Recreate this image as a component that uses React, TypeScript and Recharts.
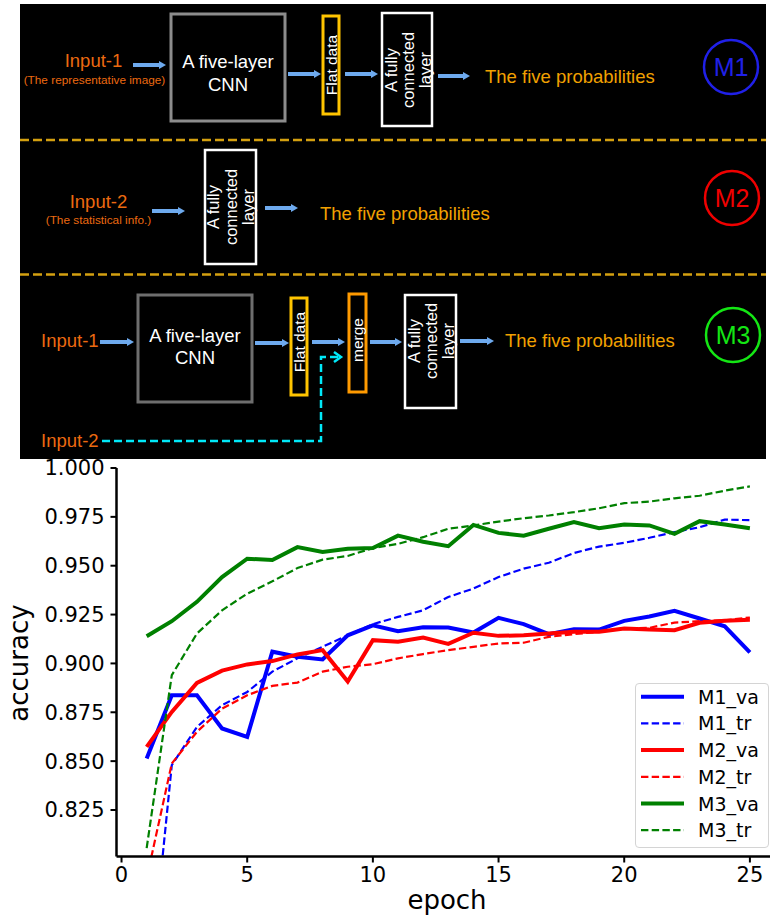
import React from 'react';
import { LineChart, Line, XAxis, YAxis, Legend } from 'recharts';

const epochs = [1, 2, 3, 4, 5, 6, 7, 8, 9, 10, 11, 12, 13, 14, 15, 16, 17, 18, 19, 20, 21, 22, 23, 24, 25];
const m1Va = [0.8514, 0.8837, 0.8837, 0.8667, 0.8624, 0.906, 0.9034, 0.902, 0.9144, 0.9195, 0.9165, 0.9185, 0.9184, 0.9158, 0.9233, 0.9201, 0.915, 0.9175, 0.9173, 0.9218, 0.924, 0.9269, 0.923, 0.919, 0.9056];
const m1Tr = [0.72, 0.848, 0.8675, 0.8786, 0.8854, 0.8958, 0.9026, 0.9085, 0.9144, 0.9201, 0.9238, 0.9272, 0.934, 0.9383, 0.9442, 0.9485, 0.9515, 0.9565, 0.9598, 0.9617, 0.9643, 0.9672, 0.9697, 0.9736, 0.9733];
const m2Va = [0.8573, 0.8752, 0.89, 0.8963, 0.8995, 0.9012, 0.9046, 0.9068, 0.8907, 0.9119, 0.9111, 0.9132, 0.91, 0.9157, 0.9141, 0.9144, 0.9153, 0.9162, 0.9162, 0.9179, 0.9173, 0.917, 0.9208, 0.9218, 0.9223];
const m2Tr = [0.79, 0.8488, 0.865, 0.8769, 0.8837, 0.8885, 0.8902, 0.8958, 0.8983, 0.8996, 0.9026, 0.9048, 0.9068, 0.9085, 0.9102, 0.9106, 0.9136, 0.915, 0.9162, 0.9179, 0.9182, 0.9209, 0.9216, 0.9221, 0.9235];
const m3Va = [0.9139, 0.9216, 0.9315, 0.9442, 0.9536, 0.9529, 0.9595, 0.957, 0.9587, 0.959, 0.9654, 0.9623, 0.96, 0.9709, 0.9668, 0.9654, 0.9689, 0.9723, 0.9692, 0.9711, 0.9706, 0.9663, 0.9728, 0.9711, 0.9692];
const m3Tr = [0.8055, 0.894, 0.9153, 0.9272, 0.9357, 0.942, 0.9488, 0.9531, 0.955, 0.959, 0.9612, 0.9646, 0.9689, 0.9706, 0.9726, 0.9743, 0.9757, 0.9774, 0.9794, 0.982, 0.9828, 0.9845, 0.9858, 0.9884, 0.9906];

const xTicks = [0, 5, 10, 15, 20, 25];
const yTicks = [0.825, 0.85, 0.875, 0.9, 0.925, 0.95, 0.975, 1.0];

const seriesNames = ['M1_va', 'M1_tr', 'M2_va', 'M2_tr', 'M3_va', 'M3_tr'];
const seriesValues = [m1Va, m1Tr, m2Va, m2Tr, m3Va, m3Tr];
const seriesColors = ['#0000ff', '#0000ff', '#ff0000', '#ff0000', '#008000', '#008000'];
const seriesDashed = [false, true, false, true, false, true];

const data = epochs.map((e, i) => {
  const row: any = { epoch: e };
  seriesNames.forEach((n, k) => {
    row[n] = seriesValues[k][i];
  });
  return row;
});

const FONT = '"DejaVu Sans", sans-serif';
const DFONT = '"Liberation Sans", Arial, sans-serif';
const ORANGE = '#ec6a10';
const AMBER = '#f2a100';
const ARROW = '#6eaaee';

// chart placement: svg top at page y = CHART_TOP
const CHART_TOP = 446;
const MT = 468 - CHART_TOP;

function Arrow({ x1, x2, y }: { x1: number; x2: number; y: number }) {
  return (
    <g>
      <line x1={x1} y1={y} x2={x2 - 5} y2={y} stroke={ARROW} strokeWidth={4} />
      <polygon points={`${x2 - 7},${y - 4} ${x2},${y} ${x2 - 7},${y + 4}`} fill={ARROW} />
    </g>
  );
}

function VText({ cx, cy, lines, size, lh }: { cx: number; cy: number; lines: string[]; size: number; lh: number }) {
  const n = lines.length;
  return (
    <text
      transform={`rotate(-90 ${cx} ${cy})`}
      x={cx}
      y={cy}
      textAnchor="middle"
      fill="#fff"
      fontSize={size}
      fontFamily={DFONT}
    >
      {lines.map((l, i) => (
        <tspan key={i} x={cx} y={cy + (i - (n - 1) / 2) * lh + size * 0.36}>
          {l}
        </tspan>
      ))}
    </text>
  );
}

function Diagram() {
  return (
    <svg width={770} height={459} style={{ position: 'absolute', left: 0, top: 0 }}>
      <rect x={20} y={4} width={746} height={455} fill="#000" />
      <line x1={20} y1={140} x2={766} y2={140} stroke="#d4a010" strokeWidth={2.5} strokeDasharray="9 4" />
      <line x1={20} y1={274.5} x2={766} y2={274.5} stroke="#d4a010" strokeWidth={2.5} strokeDasharray="9 4" />

      {/* Panel 1 */}
      <text x={93.5} y={67} textAnchor="middle" fill={ORANGE} fontSize={18.5} fontFamily={DFONT}>Input-1</text>
      <text x={94.5} y={84} textAnchor="middle" fill={ORANGE} fontSize={11.8} fontFamily={DFONT}>(The representative image)</text>
      <Arrow x1={133} x2={166} y={65} />
      <rect x={171} y={14} width={114} height={107} fill="none" stroke="#8c8c8c" strokeWidth={3} />
      <text x={228} y={68} textAnchor="middle" fill="#fff" fontSize={18.5} fontFamily={DFONT}>A five-layer</text>
      <text x={228} y={91} textAnchor="middle" fill="#fff" fontSize={18.5} fontFamily={DFONT}>CNN</text>
      <Arrow x1={288} x2={321} y={74} />
      <rect x={323} y={16} width={16} height={98} fill="none" stroke="#ffc400" strokeWidth={3} />
      <VText cx={331} cy={65} lines={['Flat data']} size={15.5} lh={16} />
      <Arrow x1={345} x2={378} y={74} />
      <rect x={382} y={13} width={50} height={113} fill="none" stroke="#fff" strokeWidth={2.5} />
      <VText cx={408} cy={70} lines={['A fully', 'connected', 'layer']} size={16.5} lh={17} />
      <Arrow x1={438} x2={470} y={76} />
      <text x={485} y={83} fill={AMBER} fontSize={18.5} fontFamily={DFONT}>The five probabilities</text>
      <circle cx={731} cy={67} r={27} fill="none" stroke="#2020e8" strokeWidth={2.5} />
      <text x={731} y={76} textAnchor="middle" fill="#2020e8" fontSize={25} fontFamily={DFONT}>M1</text>

      {/* Panel 2 */}
      <text x={98.5} y={208} textAnchor="middle" fill={ORANGE} fontSize={18.5} fontFamily={DFONT}>Input-2</text>
      <text x={98.5} y={224} textAnchor="middle" fill={ORANGE} fontSize={11.8} fontFamily={DFONT}>(The statistical info.)</text>
      <Arrow x1={152} x2={185} y={211} />
      <rect x={205} y={150} width={51} height={114} fill="none" stroke="#fff" strokeWidth={2.5} />
      <VText cx={231} cy={207} lines={['A fully', 'connected', 'layer']} size={16.5} lh={17.5} />
      <Arrow x1={265} x2={298} y={208} />
      <text x={320} y={220} fill={AMBER} fontSize={18.5} fontFamily={DFONT}>The five probabilities</text>
      <circle cx={732} cy={198} r={27} fill="none" stroke="#f00000" strokeWidth={2.5} />
      <text x={732} y={207} textAnchor="middle" fill="#f00000" fontSize={25} fontFamily={DFONT}>M2</text>

      {/* Panel 3 */}
      <text x={41} y={347} fill={ORANGE} fontSize={18.5} fontFamily={DFONT}>Input-1</text>
      <Arrow x1={100} x2={134} y={342} />
      <rect x={138} y={295} width={114} height={107} fill="none" stroke="#6e6e6e" strokeWidth={3} />
      <text x={195} y={342} textAnchor="middle" fill="#fff" fontSize={18.5} fontFamily={DFONT}>A five-layer</text>
      <text x={195} y={364} textAnchor="middle" fill="#fff" fontSize={18.5} fontFamily={DFONT}>CNN</text>
      <Arrow x1={255} x2={289} y={343} />
      <rect x={291} y={298} width={16} height={97} fill="none" stroke="#ffc400" strokeWidth={3} />
      <VText cx={299} cy={342} lines={['Flat data']} size={15.5} lh={16} />
      <Arrow x1={312} x2={345} y={342} />
      <rect x={349} y={294} width={17} height={98} fill="none" stroke="#ff9a00" strokeWidth={3} />
      <VText cx={357.5} cy={340} lines={['merge']} size={15.5} lh={16} />
      <Arrow x1={370} x2={402} y={342} />
      <rect x={405} y={295} width={51} height={113} fill="none" stroke="#fff" strokeWidth={2.5} />
      <VText cx={431} cy={341} lines={['A fully', 'connected', 'layer']} size={16.5} lh={17} />
      <Arrow x1={460} x2={494} y={341} />
      <text x={505} y={347} fill={AMBER} fontSize={18.5} fontFamily={DFONT}>The five probabilities</text>
      <circle cx={733} cy={335} r={27} fill="none" stroke="#14e614" strokeWidth={2.5} />
      <text x={733} y={344} textAnchor="middle" fill="#14e614" fontSize={25} fontFamily={DFONT}>M3</text>
      <text x={41} y={447} fill={ORANGE} fontSize={18.5} fontFamily={DFONT}>Input-2</text>
      <polyline points="102,441 321,441 321,357 339,357" fill="none" stroke="#00e8f8" strokeWidth={2.5} strokeDasharray="8 4" />
      <polyline points="334,352 341,357 334,362" fill="none" stroke="#00e8f8" strokeWidth={2.5} />
    </svg>
  );
}

function LegendBox() {
  return (
    <div
      style={{
        width: 134,
        height: 165,
        boxSizing: 'border-box',
        border: '1px solid #d4d4d4',
        borderRadius: 4,
        background: 'rgba(255,255,255,0.85)',
      }}
    >
      <svg width={132} height={163}>
        {seriesNames.map((n, i) => {
          const cy = 12.7 + i * 26.7;
          const dashed = seriesDashed[i];
          return (
            <g key={n}>
              <line
                x1={5}
                y1={cy}
                x2={48}
                y2={cy}
                stroke={seriesColors[i]}
                strokeWidth={dashed ? 2.2 : 4}
                strokeDasharray={dashed ? '7.4 3.3' : undefined}
              />
              <text x={62} y={cy + 7} fontSize={19} fontFamily={FONT} fill="#000">
                {n}
              </text>
            </g>
          );
        })}
      </svg>
    </div>
  );
}

export default function App() {
  return (
    <div style={{ position: 'absolute', left: 0, top: 0, width: 770, height: 917, background: '#fff', overflow: 'hidden' }}>
      <Diagram />
      <div style={{ position: 'absolute', left: 0, top: CHART_TOP }}>
        <LineChart width={770} height={917 - CHART_TOP} data={data} margin={{ top: MT, right: 0, bottom: 0, left: 0 }}>
          <XAxis
            dataKey="epoch"
            type="number"
            domain={[-0.2, 25.8]}
            ticks={xTicks}
            interval={0}
            allowDataOverflow
            height={60.5}
            tickSize={6}
            tickMargin={5}
            axisLine={{ stroke: '#000', strokeWidth: 2.5 }}
            tickLine={{ stroke: '#000', strokeWidth: 2 }}
            tick={{ fontSize: 21, fontFamily: FONT, fill: '#000' }}
            label={() => (
              <text x={447} y={909 - CHART_TOP} textAnchor="middle" fontSize={26} fontFamily={FONT} fill="#000">
                epoch
              </text>
            )}
          />
          <XAxis
            xAxisId="top"
            orientation="top"
            dataKey="epoch"
            type="number"
            domain={[-0.2, 25.8]}
            height={0}
            tick={false}
            tickLine={false}
            axisLine={{ stroke: '#000', strokeWidth: 2.5 }}
          />
          <YAxis
            type="number"
            domain={[0.8012, 1.0]}
            ticks={yTicks}
            interval={0}
            allowDataOverflow
            width={116.5}
            tickSize={6}
            tickMargin={6}
            tickFormatter={(v: number) => v.toFixed(3)}
            axisLine={{ stroke: '#000', strokeWidth: 2.5 }}
            tickLine={{ stroke: '#000', strokeWidth: 2 }}
            tick={{ fontSize: 21, fontFamily: FONT, fill: '#000' }}
            label={() => (
              <text
                x={28}
                y={663 - CHART_TOP}
                transform={`rotate(-90 28 ${663 - CHART_TOP})`}
                textAnchor="middle"
                fontSize={26}
                fontFamily={FONT}
                fill="#000"
              >
                accuracy
              </text>
            )}
          />
          {seriesNames.map((n, k) => (
            <Line
              key={n}
              type="linear"
              dataKey={n}
              name={n}
              stroke={seriesColors[k]}
              strokeWidth={seriesDashed[k] ? 2.2 : 4}
              strokeDasharray={seriesDashed[k] ? '7.4 3.3' : undefined}
              dot={false}
              activeDot={false}
              isAnimationActive={false}
            />
          ))}
          <Legend
            layout="vertical"
            align="center"
            verticalAlign="middle"
            content={<LegendBox />}
            wrapperStyle={{ left: 635, top: 683 - CHART_TOP, width: 134, height: 165 }}
          />
        </LineChart>
      </div>
    </div>
  );
}
